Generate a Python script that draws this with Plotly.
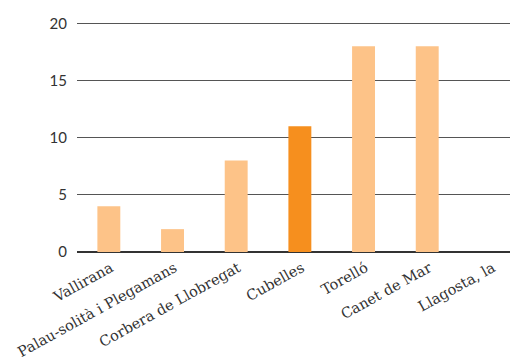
import plotly.graph_objects as go

categories = ["Vallirana", "Palau-solità i Plegamans", "Corbera de Llobregat",
              "Cubelles", "Torelló", "Canet de Mar", "Llagosta, la"]
values = [4, 2, 8, 11, 18, 18, 0]
highlight = "Cubelles"
y_ticks = [0, 5, 10, 15, 20]

light = "#fdc388"
dark = "#f68f1e"
colors = [dark if c == highlight else light for c in categories]

fig = go.Figure(go.Bar(x=categories, y=values, marker=dict(color=colors, line=dict(width=0)),
                       width=0.36))
fig.update_layout(
    width=510, height=360,
    margin=dict(l=77, r=0, t=20, b=108),
    plot_bgcolor="white", paper_bgcolor="white",
    showlegend=False,
    xaxis=dict(range=[-0.5, 6.3], tickangle=-29, showgrid=False, showline=False,
               automargin=False,
               ticks="", ticklabelshift=2, ticklabelstandoff=4,
               tickfont=dict(family="DejaVu Serif", size=14.5, color="#333333")),
    yaxis=dict(range=[0, 20.3], tickvals=y_ticks, showgrid=True, gridcolor="#555555",
               gridwidth=1, zeroline=True, zerolinecolor="#333333", zerolinewidth=1.5,
               ticks="", ticklabelstandoff=9, automargin=False,
               tickfont=dict(family="Lato", size=15, color="#333333")),
)
fig.write_html("out.html")
